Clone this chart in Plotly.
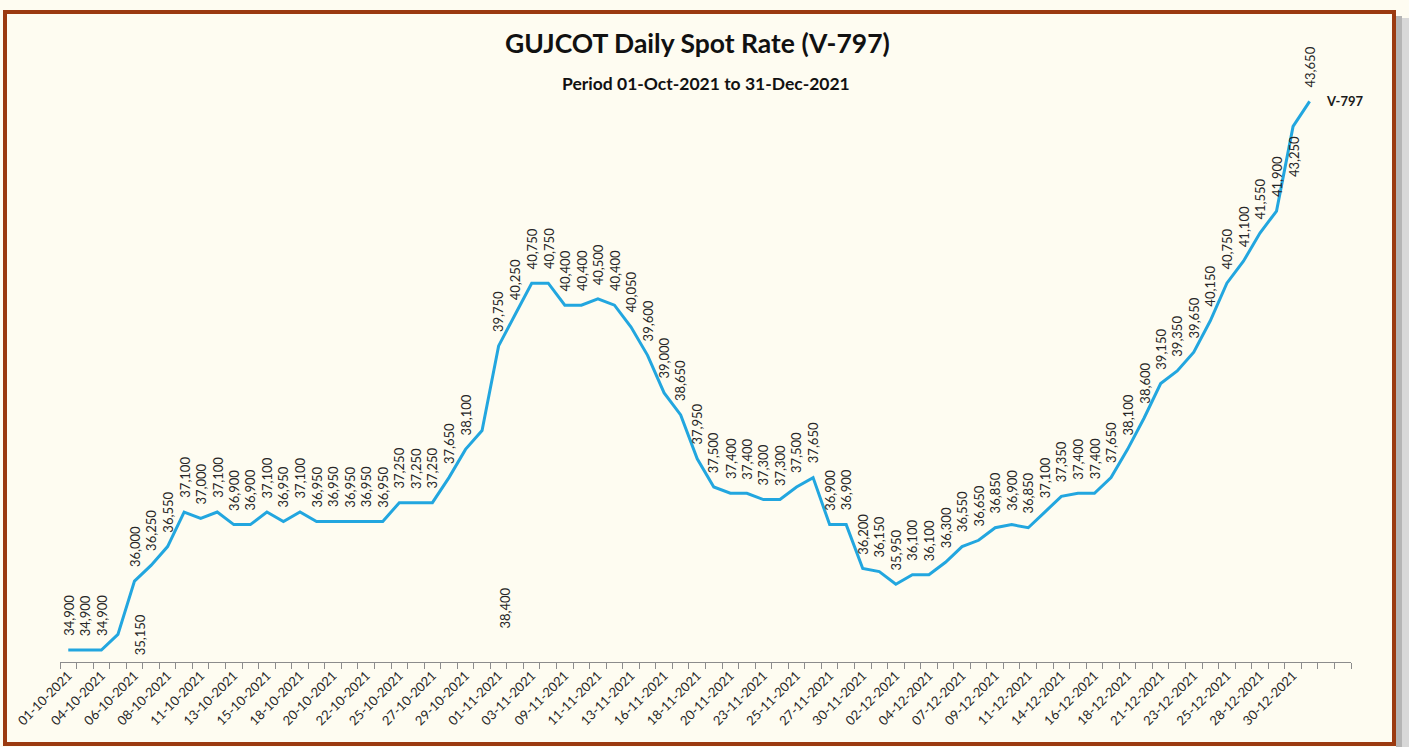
import plotly.graph_objects as go

# ---- data ----
dates = [
    "01-10-2021", "02-10-2021", "04-10-2021", "05-10-2021", "06-10-2021", "07-10-2021",
    "08-10-2021", "09-10-2021", "11-10-2021", "12-10-2021", "13-10-2021", "14-10-2021",
    "15-10-2021", "16-10-2021", "18-10-2021", "19-10-2021", "20-10-2021", "21-10-2021",
    "22-10-2021", "23-10-2021", "25-10-2021", "26-10-2021", "27-10-2021", "28-10-2021",
    "29-10-2021", "30-10-2021",
    "01-11-2021", "02-11-2021", "03-11-2021", "08-11-2021", "09-11-2021", "10-11-2021",
    "11-11-2021", "12-11-2021", "13-11-2021", "15-11-2021", "16-11-2021", "17-11-2021",
    "18-11-2021", "19-11-2021", "20-11-2021", "22-11-2021", "23-11-2021", "24-11-2021",
    "25-11-2021", "26-11-2021", "27-11-2021", "29-11-2021", "30-11-2021",
    "01-12-2021", "02-12-2021", "03-12-2021", "04-12-2021", "06-12-2021", "07-12-2021",
    "08-12-2021", "09-12-2021", "10-12-2021", "11-12-2021", "13-12-2021", "14-12-2021",
    "15-12-2021", "16-12-2021", "17-12-2021", "18-12-2021", "20-12-2021", "21-12-2021",
    "22-12-2021", "23-12-2021", "24-12-2021", "25-12-2021", "27-12-2021", "28-12-2021",
    "29-12-2021", "30-12-2021", "31-12-2021",
]
v797 = [
    34900, 34900, 34900, 35150, 36000, 36250, 36550, 37100, 37000, 37100, 36900, 36900,
    37100, 36950, 37100, 36950, 36950, 36950, 36950, 36950, 37250, 37250, 37250, 37650,
    38100, 38400,
    39750, 40250, 40750, 40750, 40400, 40400, 40500, 40400, 40050, 39600, 39000, 38650,
    37950, 37500, 37400, 37400, 37300, 37300, 37500, 37650, 36900, 36900, 36200,
    36150, 35950, 36100, 36100, 36300, 36550, 36650, 36850, 36900, 36850, 37100, 37350,
    37400, 37400, 37650, 38100, 38600, 39150, 39350, 39650, 40150, 40750, 41100, 41550,
    41900, 43250, 43650,
]
series_name = "V-797"
title_text = "GUJCOT Daily Spot Rate (V-797)"
subtitle_text = "Period 01-Oct-2021 to 31-Dec-2021"

# two empty trailing categories on the axis (blank slots)
pad_cats = [" ", "  "]
cats = dates + pad_cats
tick_text = [c if (i % 2 == 0 and c.strip()) else "" for i, c in enumerate(cats)]

# ---- styling / layout helpers ----
W, H = 1409, 747
ML, MR, MT, MB = 60, 58, 30, 85
PW, PH = W - ML - MR, H - MT - MB
FONT = "Lato, 'Open Sans', sans-serif"
LINE_COLOR = "#22A6DF"
BG = "#FEFCF1"


def px(x):
    return (x - ML) / PW


def py(y):
    return (H - MB - y) / PH


fig = go.Figure()
fig.add_trace(go.Scatter(
    x=cats, y=v797 + [None] * len(pad_cats), mode="lines", name=series_name,
    line=dict(color=LINE_COLOR, width=3), connectgaps=False, hoverinfo="x+y",
))

# special data-label placements (Excel-style positions)
special = {
    3: dict(xanchor="center", yanchor="middle", xshift=22, yshift=0),
    25: dict(xanchor="center", yanchor="middle", xshift=22, yshift=-178),
    74: dict(xanchor="center", yanchor="top", xshift=1, yshift=-9),
}
annotations = []
for i, (d, v) in enumerate(zip(dates, v797)):
    pos = special.get(i, dict(xanchor="center", yanchor="bottom", xshift=0, yshift=13))
    annotations.append(dict(
        x=d, y=v, xref="x", yref="y", text=f"{v:,}", showarrow=False, textangle=-90,
        font=dict(family=FONT, size=13, color="#262626"), borderpad=0, **pos,
    ))

annotations.append(dict(
    x=dates[-1], y=v797[-1], xref="x", yref="y", text=f"<b>{series_name}</b>",
    showarrow=False, xanchor="left", yanchor="middle", xshift=14,
    font=dict(family=FONT, size=13, color="#1a1a1a"),
))
annotations.append(dict(
    x=px(706), y=py(83), xref="paper", yref="paper", text=f"<b>{subtitle_text}</b>",
    showarrow=False, xanchor="center", yanchor="middle",
    font=dict(family=FONT, size=17.5, color="#111"),
))
annotations.append(dict(
    x=px(697), y=py(43), xref="paper", yref="paper", text=f"<b>{title_text}</b>",
    showarrow=False, xanchor="center", yanchor="middle",
    font=dict(family=FONT, size=26.5, color="#111"),
))

shapes = [
    # shadow on the right
    dict(type="rect", xref="paper", yref="paper", x0=px(1396), x1=px(1402), y0=py(747), y1=py(16),
         fillcolor="#b5b5b5", line=dict(width=0), layer="above"),
    dict(type="rect", xref="paper", yref="paper", x0=px(1402), x1=px(1409), y0=py(747), y1=py(18),
         fillcolor="#d8d8d8", line=dict(width=0), layer="above"),
    # brown frame
    dict(type="rect", xref="paper", yref="paper", x0=px(5), x1=px(1394), y0=py(744), y1=py(12),
         fillcolor="rgba(0,0,0,0)", line=dict(color="#9B3A10", width=4), layer="above"),
]

fig.update_layout(
    width=W, height=H,
    margin=dict(l=ML, r=MR, t=MT, b=MB, autoexpand=False),
    paper_bgcolor=BG, plot_bgcolor=BG,
    showlegend=False,
    annotations=annotations,
    shapes=shapes,
    font=dict(family=FONT),
    xaxis=dict(
        type="category", categoryorder="array", categoryarray=cats,
        range=[-0.5, len(cats) - 0.5],
        tickmode="array", tickvals=cats, ticktext=tick_text,
        tickson="boundaries", ticks="outside", ticklen=6, tickcolor="#8c8c8c", tickwidth=1,
        showline=True, linecolor="#8c8c8c", linewidth=1,
        showgrid=False, zeroline=False, tickangle=-45,
        tickfont=dict(family=FONT, size=13, color="#262626"),
        fixedrange=True,
    ),
    yaxis=dict(visible=False, range=[34709, 44788], showgrid=False, zeroline=False, fixedrange=True),
)

fig.write_html(
    "out.html",
    config={"displayModeBar": False},
    post_script="document.body.style.margin='0';document.body.style.padding='0';"
                "document.body.style.overflow='hidden';",
)
